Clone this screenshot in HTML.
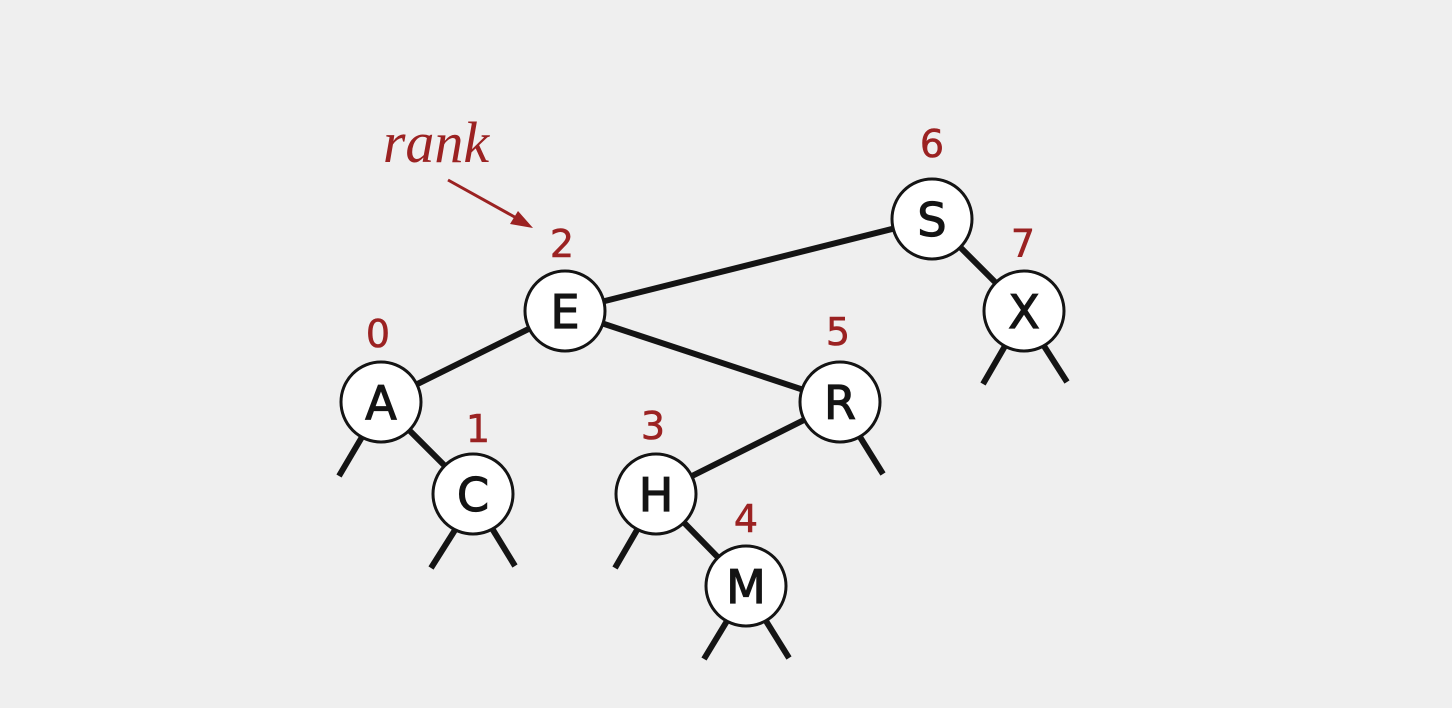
<!DOCTYPE html>
<html><head><meta charset="utf-8"><style>
html,body{margin:0;padding:0;background:#efefef;}
svg{display:block;}
.n{fill:#fff;stroke:#141414;stroke-width:3;}
.l{font-family:"DejaVu Sans","Liberation Sans",sans-serif;font-size:46px;fill:#141414;stroke:#141414;stroke-width:1.2;text-anchor:middle;}
.r{font-family:"DejaVu Sans","Liberation Sans",sans-serif;font-size:38px;fill:#9b2222;stroke:#9b2222;stroke-width:0.6;text-anchor:middle;}
</style></head><body>
<svg width="1452" height="708" viewBox="0 0 1452 708">
<g stroke="#141414" stroke-width="6" stroke-linecap="butt">
<line x1="565" y1="311" x2="932" y2="219"/>
<line x1="565" y1="311" x2="381" y2="402"/>
<line x1="565" y1="311" x2="840" y2="402"/>
<line x1="381" y1="402" x2="473" y2="494"/>
<line x1="840" y1="402" x2="656" y2="494"/>
<line x1="656" y1="494" x2="746" y2="586"/>
<line x1="932" y1="219" x2="1024" y2="311"/>
<line x1="362" y1="437" x2="339" y2="476"/>
<line x1="455" y1="530" x2="431" y2="568"/>
<line x1="493" y1="530" x2="515" y2="566"/>
<line x1="637" y1="530" x2="615" y2="568"/>
<line x1="860" y1="437" x2="883" y2="474"/>
<line x1="727" y1="621" x2="704" y2="659"/>
<line x1="766" y1="621" x2="789" y2="658"/>
<line x1="1005" y1="346" x2="983" y2="384"/>
<line x1="1044" y1="346" x2="1067" y2="382"/>
</g>
<g>
<circle class="n" cx="932" cy="219" r="40"/><text class="l" x="932" y="236">S</text>
<circle class="n" cx="565" cy="311" r="40"/><text class="l" x="565" y="328">E</text>
<circle class="n" cx="1024" cy="311" r="40"/><text class="l" x="1024" y="328">X</text>
<circle class="n" cx="381" cy="402" r="40"/><text class="l" x="381" y="419">A</text>
<circle class="n" cx="840" cy="402" r="40"/><text class="l" x="840" y="419">R</text>
<circle class="n" cx="473" cy="494" r="40"/><text class="l" x="473" y="511">C</text>
<circle class="n" cx="656" cy="494" r="40"/><text class="l" x="656" y="511">H</text>
<circle class="n" cx="746" cy="586" r="40"/><text class="l" x="746" y="603">M</text>
</g>
<text class="r" x="932" y="157">6</text>
<text class="r" x="562" y="257">2</text>
<text class="r" x="1023" y="257">7</text>
<text class="r" x="378" y="347">0</text>
<text class="r" x="838" y="345">5</text>
<text class="r" x="478" y="442">1</text>
<text class="r" x="653" y="439">3</text>
<text class="r" x="746" y="532">4</text>
<text x="436" y="162" text-anchor="middle" style="font-family:'Liberation Serif',serif;font-style:italic;font-size:58px;fill:#9b2222">rank</text>
<line x1="448" y1="180" x2="520" y2="220" stroke="#9b2222" stroke-width="3"/>
<polygon points="533,228 510,224 518,211" fill="#9b2222"/>
</svg>
</body></html>
